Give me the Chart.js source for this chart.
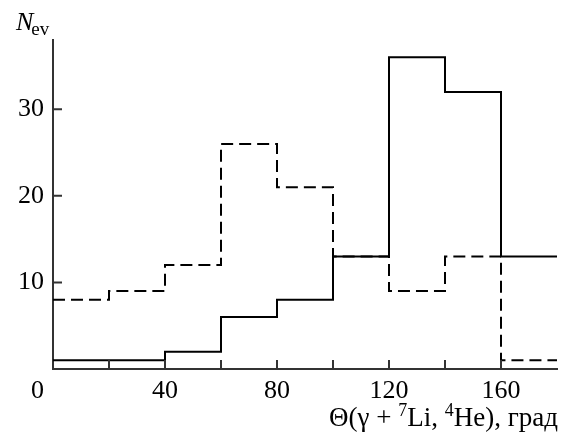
<!DOCTYPE html>
<html>
<head>
<meta charset="utf-8">
<script src="https://cdn.jsdelivr.net/npm/chart.js@4.4.1/dist/chart.umd.min.js"></script>
<style>
    html, body { margin: 0; padding: 0; background: #fff; }
    canvas { display: block; }
</style>
</head>
<body>
<canvas id="hist" width="569" height="434"></canvas>
<script>
// bin edges in degrees, counts per bin
const binEdges = [0, 20, 40, 60, 80, 100, 120, 140, 160, 180];
const solidCounts = [1, 1, 2, 6, 8, 13, 36, 32, 13];
const dashedCounts = [8, 9, 12, 26, 21, 13, 9, 13, 1];
const xTickLabels = [40, 80, 120, 160];
const yTickLabels = [10, 20, 30];

const serif = "'Liberation Serif', 'DejaVu Serif', serif";
const axisColor = "#333";

// step line points: one point on each left edge, last value repeated at the right edge
function stepPoints(counts) {
    const pts = counts.map((v, i) => ({ x: binEdges[i], y: v }));
    pts.push({ x: binEdges[binEdges.length - 1], y: counts[counts.length - 1] });
    return pts;
}

const innerTicks = {
    id: "innerTicks",
    afterDraw: (chart) => {
        const ctx = chart.ctx;
        const xs = chart.scales.x;
        const ys = chart.scales.y;
        const area = chart.chartArea;
        ctx.save();
        ctx.strokeStyle = axisColor;
        ctx.lineWidth = 2;
        ctx.beginPath();
        xs.ticks.forEach((t) => {
            if (t.value <= xs.min || t.value >= xs.max) return;
            const px = xs.getPixelForValue(t.value);
            ctx.moveTo(px, area.bottom);
            ctx.lineTo(px, area.bottom - 9);
        });
        yTickLabels.forEach((v) => {
            const py = ys.getPixelForValue(v);
            ctx.moveTo(area.left, py);
            ctx.lineTo(area.left + 9, py);
        });
        ctx.stroke();

        // origin label, set below the corner
        ctx.fillStyle = "#000";
        ctx.font = "26px " + serif;
        ctx.textAlign = "right";
        ctx.textBaseline = "alphabetic";
        ctx.fillText("0", area.left - 9, area.bottom + 29);

        // y title N_ev
        ctx.textAlign = "left";
        ctx.font = "italic 26px " + serif;
        ctx.fillText("N", 16, 30);
        const nW = ctx.measureText("N").width;
        ctx.font = "19px " + serif;
        ctx.fillText("ev", 14 + nW, 35);

        // x title with superscripts
        const parts = [
            ["Θ(γ + ", false],
            ["7", true],
            ["Li, ", false],
            ["4", true],
            ["He), град", false],
        ];
        const big = "27px " + serif;
        const small = "18px " + serif;
        let total = 0;
        parts.forEach(([s, sup]) => {
            ctx.font = sup ? small : big;
            total += ctx.measureText(s).width;
        });
        let x = area.right + 1 - total;
        const base = 426;
        parts.forEach(([s, sup]) => {
            ctx.font = sup ? small : big;
            ctx.fillText(s, x, sup ? base - 10 : base);
            x += ctx.measureText(s).width;
        });
        ctx.restore();
    },
};

new Chart(document.getElementById("hist"), {
    type: "line",
    data: {
        datasets: [
            {
                data: stepPoints(solidCounts),
                borderColor: "#000",
                borderWidth: 2,
                stepped: "before",
                pointRadius: 0,
                fill: false,
                clip: 4,
            },
            {
                data: stepPoints(dashedCounts),
                borderColor: "#000",
                borderWidth: 2,
                borderDash: [12, 6],
                stepped: "before",
                pointRadius: 0,
                fill: false,
                clip: 4,
            },
        ],
    },
    options: {
        responsive: false,
        animation: false,
        layout: {
            padding: { top: 40, right: 12, left: 0, bottom: 0 },
        },
        plugins: {
            legend: { display: false },
            tooltip: { enabled: false },
        },
        scales: {
            x: {
                type: "linear",
                min: 0,
                max: 180,
                grid: { display: false, drawTicks: false },
                border: { display: true, color: axisColor, width: 2 },
                afterFit: (scale) => {
                    scale.height = 65;
                },
                ticks: {
                    stepSize: 20,
                    autoSkip: false,
                    maxRotation: 0,
                    padding: 7,
                    color: "#000",
                    font: { family: serif, size: 26 },
                    callback: (value) =>
                        xTickLabels.includes(value) ? String(value) : "",
                },
            },
            y: {
                min: 0,
                max: 38,
                grid: { display: false, drawTicks: false },
                border: { display: true, color: axisColor, width: 2 },
                afterFit: (scale) => {
                    scale.width = 53;
                },
                ticks: {
                    stepSize: 10,
                    padding: 9,
                    color: "#000",
                    font: { family: serif, size: 26 },
                    callback: (value) =>
                        yTickLabels.includes(value) ? String(value) : "",
                },
            },
        },
    },
    plugins: [innerTicks],
});
</script>
</body>
</html>
